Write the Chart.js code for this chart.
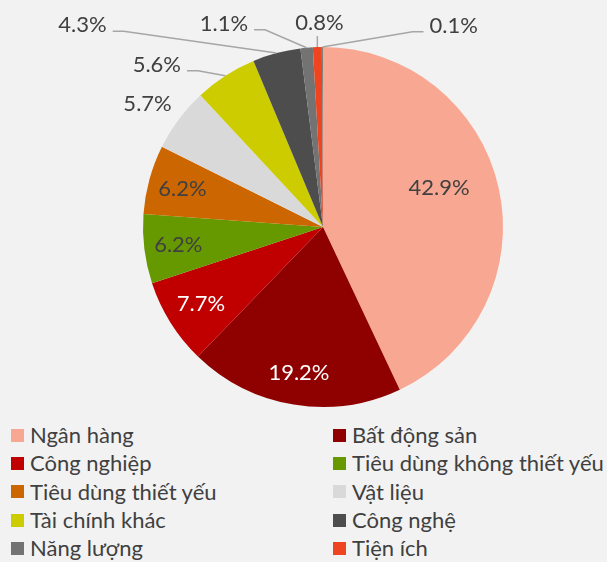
<!DOCTYPE html>
<html>
<head>
<meta charset="utf-8">
<script src="https://cdn.jsdelivr.net/npm/chart.js@4.4.1/dist/chart.umd.min.js"></script>
<style>
    html, body { margin: 0; padding: 0; background: #F2F2F2; }
    #wrap { position: relative; width: 607px; height: 562px; overflow: hidden; }
    #legend {
        position: absolute; left: 11px; top: 421px;
        display: grid; grid-template-columns: 322px 274px; grid-auto-rows: 28.3px;
        font-family: Lato, "Open Sans", sans-serif; font-size: 22px; line-height: 24px; color: #404040;
    }
    .item { display: flex; align-items: center; white-space: nowrap; }
    .box { width: 13px; height: 13px; margin-right: 6px; flex: none; }
</style>
</head>
<body>
<div id="wrap">
    <canvas id="myChart" width="607" height="420"></canvas>
    <div id="legend"></div>
</div>
<script>
const labels = ['Ngân hàng', 'Bất động sản', 'Công nghiệp', 'Tiêu dùng không thiết yếu', 'Tiêu dùng thiết yếu',
    'Vật liệu', 'Tài chính khác', 'Công nghệ', 'Năng lượng', 'Tiện ích', 'Y tế'];
const shares = [42.9, 19.2, 7.7, 6.2, 6.2, 5.7, 5.6, 4.3, 1.1, 0.8, 0.1];
const colors = ['#F8A892', '#8F0000', '#C00000', '#669900', '#CC6600', '#D9D9D9', '#CCCC00', '#4D4D4D', '#737373', '#EE4420', '#7F7F7F'];
// the last slice has no legend entry in the original
const inLegend = [true, true, true, true, true, true, true, true, true, true, false];

// where each percentage label sits: r = fraction of the radius, deg = clockwise from top (default: slice middle)
const labelPlace = [
    { r: 0.68, deg: 71.6 }, { r: 0.82 }, { r: 0.80 }, { r: 0.81 }, { r: 0.81 },
    { r: 1.19, deg: 305 }, { r: 1.29, deg: 314.3, line: true }, { r: 1.744, deg: 310, line: true },
    { r: 1.256, deg: 334, line: true }, { r: 1.133, deg: 359, line: true }, { r: 1.333, deg: 33, line: true }
];
const whiteText = [false, true, true, false, false, false, false, false, false, false, false];

const pieLabels = {
    id: 'pieLabels',
    afterDatasetsDraw(chart) {
        const ctx = chart.ctx;
        const meta = chart.getDatasetMeta(0);
        ctx.save();
        ctx.font = '22px Lato, "Open Sans", sans-serif';
        ctx.textAlign = 'center';
        ctx.textBaseline = 'middle';
        meta.data.forEach((arc, i) => {
            const p = arc.getProps(['x', 'y', 'startAngle', 'endAngle', 'outerRadius'], true);
            const mid = (p.startAngle + p.endAngle) / 2;
            const place = labelPlace[i];
            const ang = place.deg !== undefined ? (place.deg - 90) * Math.PI / 180 : mid;
            const tx = p.x + Math.cos(ang) * p.outerRadius * place.r;
            const ty = p.y + Math.sin(ang) * p.outerRadius * place.r;
            const text = shares[i].toFixed(1) + '%';
            const w = ctx.measureText(text).width;

            if (place.line) {
                const ax = p.x + Math.cos(mid) * p.outerRadius;
                const ay = p.y + Math.sin(mid) * p.outerRadius;
                ctx.strokeStyle = '#A6A6A6';
                ctx.lineWidth = 1.5;
                ctx.beginPath();
                if (Math.abs(ax - tx) < w / 2) {
                    ctx.moveTo(ax, ty + 13);
                    ctx.lineTo(ax, ay);
                } else {
                    const sign = ax > tx ? 1 : -1;
                    const endX = tx + sign * (w / 2 + 6);
                    ctx.moveTo(endX, ty + 6);
                    ctx.lineTo(endX + sign * 11, ty + 6);
                    ctx.lineTo(ax, ay);
                }
                ctx.stroke();
            }

            ctx.fillStyle = whiteText[i] ? '#FFFFFF' : '#404040';
            ctx.fillText(text, tx, ty);
        });
        ctx.restore();
    }
};

const ctx = document.getElementById('myChart').getContext('2d');
const myChart = new Chart(ctx, {
    type: 'pie',
    data: {
        labels: labels,
        datasets: [{
            data: shares,
            backgroundColor: colors,
            borderWidth: 0
        }]
    },
    options: {
        responsive: false,
        animation: false,
        layout: { padding: { left: 143, right: 104, top: 47, bottom: 13 } },
        plugins: {
            legend: { display: false },
            tooltip: { enabled: false }
        }
    },
    plugins: [pieLabels]
});

const legend = document.getElementById('legend');
labels.forEach((name, i) => {
    if (!inLegend[i]) return;
    const item = document.createElement('div');
    item.className = 'item';
    const box = document.createElement('span');
    box.className = 'box';
    box.style.background = colors[i];
    item.appendChild(box);
    item.appendChild(document.createTextNode(name));
    legend.appendChild(item);
});
</script>
</body>
</html>
